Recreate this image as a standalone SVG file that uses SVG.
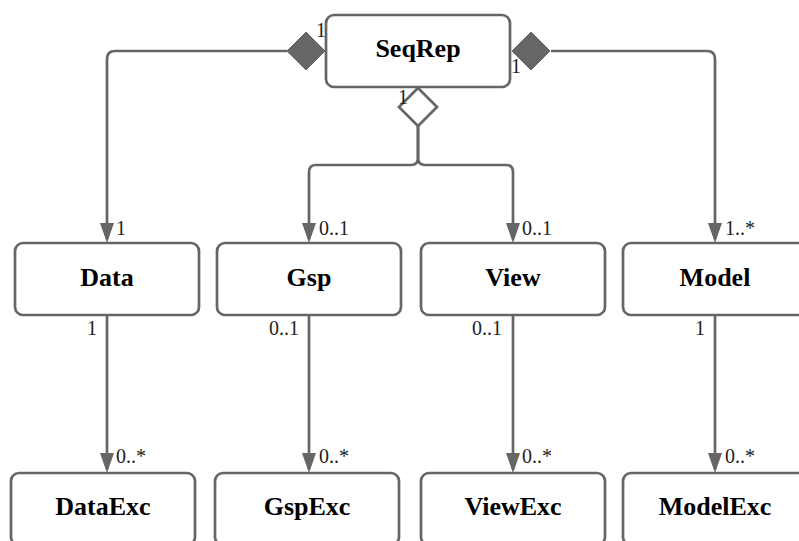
<svg xmlns="http://www.w3.org/2000/svg" width="799" height="541" viewBox="0 0 799 541">
  <style>
    .box { fill: #ffffff; stroke: #666666; stroke-width: 2.7; }
    .title { font-family: "Liberation Serif", "Times New Roman", serif; font-weight: bold; font-size: 26px; fill: #000000; text-anchor: middle; }
    .lbl { font-family: "Liberation Serif", "Times New Roman", serif; font-size: 20px; fill: #222222; }
    .end { text-anchor: end; }
    .edge { fill: none; stroke: #666666; stroke-width: 2.7; }
    .arrow { marker-end: url(#tri); }
  </style>
  <defs>
    <marker id="tri" viewBox="0 0 20 14" refX="16" refY="7" markerWidth="20" markerHeight="14" markerUnits="userSpaceOnUse" orient="auto">
      <path d="M0,0 L20,7 L0,14 Z" fill="#666666"/>
    </marker>
  </defs>

  <g id="connectors">
    <path class="edge arrow" d="M287,51 H115 Q107,51 107,59 V239"/>
    <path class="edge arrow" d="M551,51 H707 Q715,51 715,59 V239"/>
    <path class="edge arrow" d="M418,126 V158 Q418,165 411,165 H316 Q309,165 309,172 V239"/>
    <path class="edge arrow" d="M418,126 V158 Q418,165 425,165 H506 Q513,165 513,172 V239"/>
    <path class="edge arrow" d="M107,315 V469"/>
    <path class="edge arrow" d="M309,315 V469"/>
    <path class="edge arrow" d="M513,315 V469"/>
    <path class="edge arrow" d="M715,315 V469"/>
    <polygon points="287,51 306,32 325,51 306,70" fill="#666666" stroke="#666666" stroke-width="1"/>
    <polygon points="512,51 531,32 550,51 531,70" fill="#666666" stroke="#666666" stroke-width="1"/>
    <polygon points="418,88 437,107 418,126 399,107" fill="#ffffff" stroke="#666666" stroke-width="2.7"/>
    <text class="lbl" x="316" y="37">1</text>
    <text class="lbl" x="511" y="73">1</text>
    <text class="lbl" x="398" y="104">1</text>
    <text class="lbl" x="116" y="235">1</text>
    <text class="lbl" x="319" y="235">0..1</text>
    <text class="lbl" x="522" y="235">0..1</text>
    <text class="lbl" x="725" y="235">1..*</text>
    <text class="lbl end" x="97" y="335">1</text>
    <text class="lbl end" x="299" y="335">0..1</text>
    <text class="lbl end" x="502" y="335">0..1</text>
    <text class="lbl end" x="705" y="335">1</text>
    <text class="lbl" x="116" y="463">0..*</text>
    <text class="lbl" x="319" y="463">0..*</text>
    <text class="lbl" x="522" y="463">0..*</text>
    <text class="lbl" x="725" y="463">0..*</text>
  </g>

  <g id="SeqRep">
    <rect class="box" x="326" y="15" width="184" height="72" rx="8"/>
    <text class="title" x="418" y="57">SeqRep</text>
  </g>
  <g id="Data">
    <rect class="box" x="15" y="243" width="184" height="72" rx="8"/>
    <text class="title" x="107" y="286">Data</text>
  </g>
  <g id="Gsp">
    <rect class="box" x="217" y="243" width="184" height="72" rx="8"/>
    <text class="title" x="309" y="286">Gsp</text>
  </g>
  <g id="View">
    <rect class="box" x="421" y="243" width="184" height="72" rx="8"/>
    <text class="title" x="513" y="286">View</text>
  </g>
  <g id="Model">
    <rect class="box" x="623" y="243" width="184" height="72" rx="8"/>
    <text class="title" x="715" y="286">Model</text>
  </g>
  <g id="DataExc">
    <rect class="box" x="11" y="473" width="184" height="72" rx="8"/>
    <text class="title" x="103" y="515">DataExc</text>
  </g>
  <g id="GspExc">
    <rect class="box" x="215" y="473" width="184" height="72" rx="8"/>
    <text class="title" x="307" y="515">GspExc</text>
  </g>
  <g id="ViewExc">
    <rect class="box" x="421" y="473" width="184" height="72" rx="8"/>
    <text class="title" x="513" y="515">ViewExc</text>
  </g>
  <g id="ModelExc">
    <rect class="box" x="623" y="473" width="184" height="72" rx="8"/>
    <text class="title" x="715" y="515">ModelExc</text>
  </g>
</svg>
